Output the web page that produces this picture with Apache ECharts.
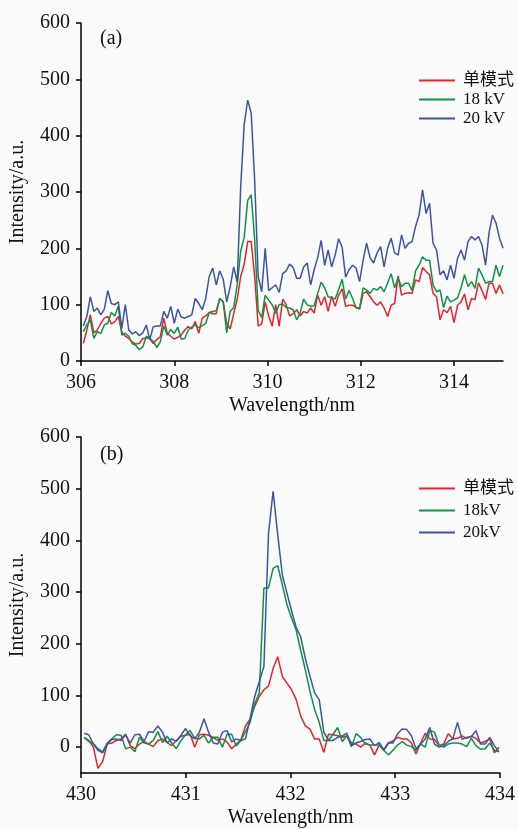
<!DOCTYPE html>
<html>
<head>
<meta charset="utf-8">
<script src="https://cdn.jsdelivr.net/npm/echarts@6/dist/echarts.min.js"></script>
<style>
  html, body { margin: 0; padding: 0; background: #fafafa; }
  #chart { width: 518px; height: 829px; }
</style>
</head>
<body>
<div id="chart"></div>
<script>
// (a) 306-315 nm, sampled every 0.075 nm from 306.05
var aStart = 306.05, aStep = 0.075
var aRed = [
  31, 55, 82, 50, 55, 67, 76, 79, 66, 70,
  79, 52, 44, 40, 34, 30, 31, 40, 41, 40,
  31, 38, 43, 76, 49, 44, 39, 42, 46, 55,
  61, 57, 70, 49, 76, 80, 86, 84, 84, 111,
  105, 67, 57, 84, 110, 150, 172, 212, 212, 150,
  62, 66, 105, 80, 62, 100, 62, 110, 100, 80,
  84, 91, 80, 88, 85, 94, 85, 117, 99, 114,
  88, 115, 97, 117, 128, 97, 99, 99, 95, 92,
  120, 123, 114, 105, 99, 105, 94, 79, 99, 102,
  151, 117, 120, 121, 120, 144, 141, 166, 159, 153,
  120, 114, 73, 91, 86, 97, 68, 99, 105, 119,
  91, 111, 109, 139, 125, 109, 138, 138, 120, 135, 119
]
var aGreen = [
  52, 64, 73, 40, 52, 49, 64, 67, 86, 80,
  97, 46, 49, 44, 31, 28, 20, 25, 44, 40,
  35, 24, 34, 62, 46, 56, 49, 60, 39, 40,
  55, 60, 64, 59, 63, 67, 86, 88, 89, 111,
  105, 50, 88, 95, 135, 195, 220, 285, 295, 215,
  90, 77, 117, 108, 100, 85, 100, 101, 95, 94,
  91, 73, 85, 110, 100, 97, 98, 120, 140, 130,
  114, 112, 110, 127, 145, 110, 125, 111, 94, 94,
  130, 126, 120, 129, 126, 132, 123, 138, 155, 130,
  147, 132, 138, 138, 125, 160, 170, 185, 179, 179,
  135, 123, 126, 95, 115, 105, 108, 112, 130, 153,
  132, 141, 129, 165, 153, 138, 141, 141, 170, 150, 170
]
var aBlue = [
  62, 79, 114, 88, 94, 82, 92, 125, 102, 100,
  105, 58, 100, 55, 48, 52, 45, 50, 64, 38,
  61, 62, 62, 88, 76, 97, 67, 92, 78, 76,
  79, 82, 111, 102, 91, 111, 150, 165, 135, 160,
  145, 105, 132, 167, 140, 310, 420, 463, 440, 320,
  150, 123, 200, 125, 130, 135, 122, 155, 160, 172,
  166, 147, 147, 167, 174, 135, 162, 183, 214, 170,
  197, 167, 188, 217, 202, 149, 162, 170, 165, 141,
  179, 209, 183, 174, 192, 203, 167, 200, 218, 192,
  188, 224, 200, 209, 212, 239, 259, 304, 262, 280,
  209, 197, 153, 160, 144, 170, 147, 182, 197, 179,
  212, 221, 215, 221, 206, 170, 227, 259, 245, 218, 200
]

// (b) 430-434 nm, sampled every 0.044 nm from 430.03
var bStart = 430.03, bStep = 0.044
var bRed = [
  19, 13, 0, -41, -28, 6, 8, 13, 16, 25,
  3, -3, 6, 11, 6, 1, 13, 16, 9, 3,
  13, 21, 23, 25, 0, 24, 25, 23, 19, 13,
  16, 10, -3, 6, 14, 41, 54, 79, 98, 111,
  118, 152, 175, 137, 124, 111, 92, 60, 41, 35,
  16, 16, -10, 25, 24, 22, 19, 22, 8, 6,
  0, 8, 4, -15, 4, -6, 8, 12, 19, 16,
  16, 8, -13, 8, 27, 16, 15, 3, 6, 26,
  16, 17, 22, 17, 21, 17, 8, 11, 16, -11, 0
]
var bGreen = [
  19, 11, 7, -3, -9, 8, 16, 24, 23, -3,
  0, -9, 19, 8, 6, 13, 30, 9, 21, 8,
  -3, 13, 24, 32, 17, 16, 23, 8, 19, 19,
  0, 25, 25, 2, 13, 30, 48, 84, 105, 308,
  308, 346, 351, 314, 276, 250, 226, 187, 149, 108,
  73, 48, 13, 13, 25, 38, 11, 22, 1, 26,
  19, 6, 4, 4, 4, -6, -15, -6, 4, 11,
  4, 1, -6, 6, 0, 32, 29, 4, 0, 6,
  8, 8, 6, 1, 17, 3, -4, -3, 8, -6, -9
]
var bBlue = [
  27, 24, 6, -6, -11, 6, 15, 16, 13, 24,
  8, 24, 25, 11, 30, 29, 41, 29, 8, 16,
  11, 23, 36, 22, 16, 29, 55, 29, 8, 6,
  29, 32, 10, 16, 13, 16, 55, 98, 127, 156,
  413, 495, 411, 333, 298, 264, 232, 213, 171, 137,
  105, 92, 29, 13, 13, 19, 22, 27, 3, 8,
  11, 15, 16, 3, 9, -5, 8, 8, 26, 35,
  34, 22, -3, 6, 16, 38, 6, 0, 3, 11,
  16, 48, 15, 19, 20, 32, 6, 6, 19, 3, -9
]

var aTicksX = [306, 308, 310, 312, 314]
var bTicksX = [430, 431, 432, 433, 434]
var yTicks = [0, 100, 200, 300, 400, 500, 600]

var aNames = ['单模式', '18 kV', '20 kV']
var bNames = ['单模式', '18kV', '20kV']
var colors = ['#e5232a', '#0e9346', '#3b55a5']

var FONT = "'Liberation Serif', 'Times New Roman', 'Noto Sans CJK SC', serif"

function pairs(start, step, vals) {
  return vals.map(function (v, i) { return [+(start + step * i).toFixed(3), v] })
}

var axisLine = { lineStyle: { color: '#000', width: 1.5 } }
var axisTick = { inside: false, length: 5, lineStyle: { color: '#000', width: 1.5 } }
var nameStyle = { color: '#111', fontSize: 20, fontFamily: FONT }

function xAxis(gi, min, max, ticks) {
  return {
    type: 'value', gridIndex: gi, min: min, max: max,
    name: 'Wavelength/nm', nameLocation: 'middle', nameGap: 35, nameTextStyle: nameStyle,
    axisLine: Object.assign({ onZero: false }, axisLine),
    axisTick: Object.assign({ customValues: ticks }, axisTick),
    axisLabel: { customValues: ticks, color: '#111', fontSize: 20, fontFamily: FONT, margin: 12 },
    splitLine: { show: false }
  }
}
function yAxis(gi, min) {
  return {
    type: 'value', gridIndex: gi, min: min, max: 600,
    name: 'Intensity/a.u.', nameLocation: 'middle', nameGap: 53, nameTextStyle: nameStyle,
    axisLine: Object.assign({ onZero: false }, axisLine),
    axisTick: Object.assign({ customValues: yTicks }, axisTick),
    axisLabel: { customValues: yTicks, color: '#111', fontSize: 20, fontFamily: FONT, margin: 11 },
    splitLine: { show: false }
  }
}
function line(name, gi, data, color) {
  return {
    name: name, type: 'line', xAxisIndex: gi, yAxisIndex: gi,
    data: data, symbol: 'none', smooth: false, animation: false,
    lineStyle: { color: color, width: 1.5 }, itemStyle: { color: color }
  }
}
function legend(names, top, gap) {
  return {
    data: names, orient: 'vertical', left: 414, top: top,
    icon: 'rect', itemWidth: 36, itemHeight: 2, itemGap: gap,
    selectedMode: false,
    textStyle: { color: '#111', fontSize: 17, lineHeight: 17, fontFamily: FONT, padding: [0, 0, 0, 3] }
  }
}

var chart = echarts.init(document.getElementById('chart'))
chart.setOption({
  backgroundColor: '#fafafa',
  animation: false,
  grid: [
    { left: 80, top: 23, width: 423, height: 338 },
    { left: 80, top: 437, width: 420, height: 340 }
  ],
  xAxis: [xAxis(0, 306, 315.05, aTicksX), xAxis(1, 430, 434, bTicksX)],
  yAxis: [yAxis(0, 0), yAxis(1, -50)],
  legend: [legend(aNames, 67, 2), legend(bNames, 475, 5)],
  graphic: [
    { type: 'text', left: 100, top: 29, style: { text: '(a)', fill: '#111', font: '20px ' + FONT } },
    { type: 'text', left: 100, top: 445, style: { text: '(b)', fill: '#111', font: '20px ' + FONT } }
  ],
  series: [
    line(aNames[0], 0, pairs(aStart, aStep, aRed), colors[0]),
    line(aNames[1], 0, pairs(aStart, aStep, aGreen), colors[1]),
    line(aNames[2], 0, pairs(aStart, aStep, aBlue), colors[2]),
    line(bNames[0], 1, pairs(bStart, bStep, bRed), colors[0]),
    line(bNames[1], 1, pairs(bStart, bStep, bGreen), colors[1]),
    line(bNames[2], 1, pairs(bStart, bStep, bBlue), colors[2])
  ]
})
</script>
</body>
</html>
